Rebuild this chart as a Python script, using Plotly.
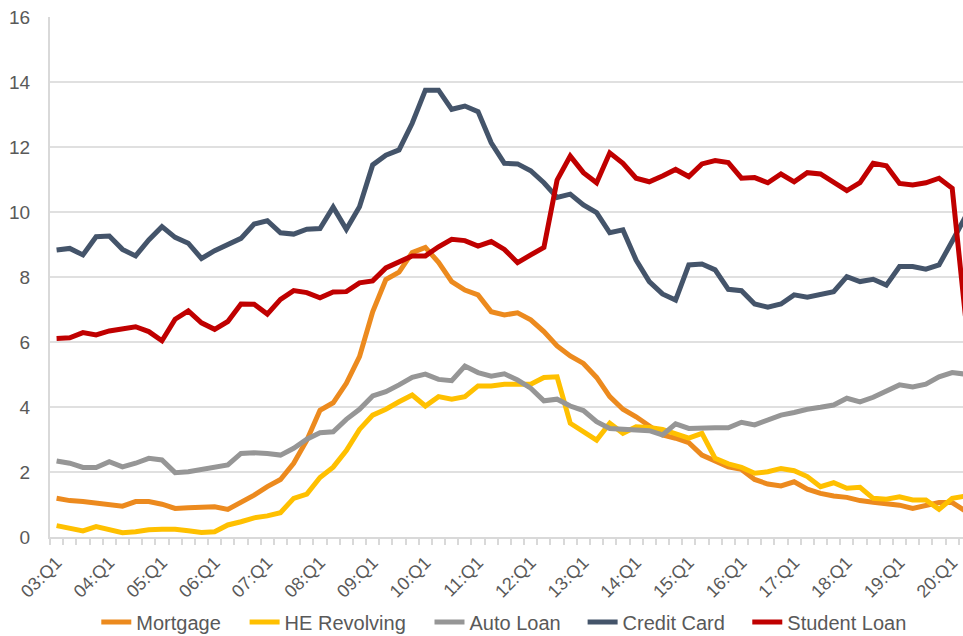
import plotly.graph_objects as go

# Quarter labels 03:Q1 .. 20:Q2
years = list(range(3, 21))
quarters = [f"{y:02d}:Q{q}" for y in years for q in (1, 2, 3, 4)][:70]

mortgage = [1.19, 1.12, 1.09, 1.04, 0.98, 0.95, 1.09, 1.09, 1.01, 0.88,
            0.90, 0.93, 0.93, 0.85, 1.06, 1.29, 1.55, 1.77, 2.27, 2.98,
            3.90, 4.13, 4.73, 5.55, 6.93, 7.92, 8.15, 8.75, 8.91, 8.45,
            7.86, 7.60, 7.45, 6.93, 6.83, 6.90, 6.68, 6.32, 5.88, 5.57,
            5.34, 4.91, 4.32, 3.93, 3.70, 3.40, 3.14, 3.04, 2.90, 2.52,
            2.32, 2.16, 2.08, 1.77, 1.63, 1.57, 1.70, 1.47, 1.34, 1.26,
            1.22, 1.12, 1.07, 1.04, 0.98, 0.88, 0.98, 1.06, 1.06, 0.80]

he_revolving = [0.35, 0.27, 0.19, 0.32, 0.22, 0.13, 0.16, 0.22, 0.24, 0.24,
                0.19, 0.14, 0.16, 0.37, 0.47, 0.59, 0.65, 0.75, 1.19, 1.32,
                1.83, 2.15, 2.66, 3.31, 3.75, 3.93, 4.16, 4.37, 4.03, 4.32,
                4.24, 4.32, 4.65, 4.65, 4.70, 4.70, 4.70, 4.91, 4.93, 3.50,
                3.24, 2.98, 3.50, 3.19, 3.39, 3.37, 3.31, 3.17, 3.04, 3.19,
                2.42, 2.25, 2.14, 1.96, 2.01, 2.11, 2.04, 1.86, 1.55, 1.67,
                1.50, 1.53, 1.19, 1.16, 1.24, 1.14, 1.14, 0.85, 1.19, 1.26]

auto_loan = [2.34, 2.27, 2.14, 2.14, 2.32, 2.16, 2.27, 2.42, 2.37, 1.98,
             2.01, 2.08, 2.16, 2.22, 2.57, 2.59, 2.57, 2.52, 2.73, 3.01,
             3.21, 3.24, 3.62, 3.93, 4.34, 4.47, 4.68, 4.91, 5.01, 4.85,
             4.81, 5.26, 5.06, 4.95, 5.02, 4.83, 4.58, 4.19, 4.24, 4.03,
             3.89, 3.55, 3.34, 3.31, 3.31, 3.27, 3.14, 3.48, 3.34, 3.36,
             3.36, 3.36, 3.53, 3.45, 3.58, 3.75, 3.83, 3.93, 3.99, 4.06,
             4.27, 4.16, 4.30, 4.47, 4.68, 4.62, 4.70, 4.93, 5.06, 5.01]

credit_card = [8.83, 8.88, 8.68, 9.24, 9.26, 8.85, 8.65, 9.14, 9.55, 9.22,
               9.04, 8.57, 8.81, 8.98, 9.19, 9.63, 9.73, 9.36, 9.32, 9.47,
               9.49, 10.15, 9.47, 10.16, 11.45, 11.75, 11.91, 12.73, 13.75, 13.75,
               13.16, 13.26, 13.09, 12.13, 11.50, 11.48, 11.27, 10.90, 10.45, 10.55,
               10.22, 9.98, 9.36, 9.45, 8.52, 7.86, 7.48, 7.29, 8.37, 8.40,
               8.22, 7.62, 7.58, 7.17, 7.07, 7.17, 7.45, 7.38, 7.48, 7.55,
               8.01, 7.86, 7.93, 7.75, 8.32, 8.32, 8.24, 8.37, 9.10, 9.85]

student_loan = [6.11, 6.13, 6.29, 6.22, 6.34, 6.39, 6.47, 6.32, 6.04, 6.70,
                6.96, 6.59, 6.39, 6.63, 7.17, 7.16, 6.86, 7.31, 7.58, 7.52,
                7.36, 7.54, 7.55, 7.82, 7.88, 8.28, 8.45, 8.65, 8.65, 8.93,
                9.16, 9.12, 8.95, 9.09, 8.85, 8.44, 8.68, 8.91, 10.98, 11.72,
                11.21, 10.90, 11.82, 11.50, 11.04, 10.93, 11.11, 11.31, 11.09, 11.48,
                11.58, 11.52, 11.04, 11.06, 10.90, 11.17, 10.93, 11.21, 11.17, 10.93,
                10.66, 10.90, 11.50, 11.42, 10.88, 10.83, 10.90, 11.04, 10.73, 6.80]

series_names = ["Mortgage", "HE Revolving", "Auto Loan", "Credit Card", "Student Loan"]
series_values = [mortgage, he_revolving, auto_loan, credit_card, student_loan]
series_colors = ["#EC8A1E", "#FFC000", "#969696", "#44546A", "#C00000"]
# left edge of each legend entry (fraction of the figure width)
legend_x = [0.100, 0.254, 0.446, 0.605, 0.776]

xi = list(range(len(quarters)))
tick_idx = [i for i, q in enumerate(quarters) if q.endswith("Q1")]
tick_txt = [quarters[i] for i in tick_idx]

fig = go.Figure()
legend_layout = {}
for k, (name, vals, color) in enumerate(zip(series_names, series_values, series_colors)):
    lg = "legend" if k == 0 else f"legend{k + 1}"
    fig.add_trace(go.Scatter(
        x=xi, y=vals, name=name, mode="lines",
        line=dict(color=color, width=5), legend=lg,
    ))
    legend_layout[lg] = dict(
        orientation="h", xref="container", x=legend_x[k], xanchor="left",
        yref="container", y=0.022, yanchor="middle",
        font=dict(size=20, color="#595959"),
        bgcolor="rgba(0,0,0,0)", borderwidth=0,
    )

font_family = "Liberation Sans, Arial, sans-serif"
fig.update_layout(
    width=963, height=636,
    margin=dict(l=50, r=0, t=17, b=99, autoexpand=False),
    paper_bgcolor="white", plot_bgcolor="white",
    font=dict(family=font_family, color="#595959"),
    showlegend=True,
    **legend_layout,
)
fig.update_yaxes(
    range=[0, 16], dtick=2, tick0=0, automargin=False,
    showgrid=True, gridcolor="#e0e0e0", gridwidth=2,
    zeroline=False,
    showline=True, linecolor="#d9d9d9", linewidth=2,
    ticks="", ticklabelstandoff=14,
    tickfont=dict(size=19, color="#595959"),
)
fig.update_xaxes(
    range=[-0.5, 68.82], automargin=False,
    tickmode="array", tickvals=tick_idx, ticktext=tick_txt,
    tickangle=-45, ticks="", ticklabelstandoff=6,
    tickfont=dict(size=18, color="#595959"),
    showgrid=False, zeroline=False,
    showline=True, linecolor="#d9d9d9", linewidth=2,
    minor=dict(tick0=-0.5, dtick=1, ticks="outside", ticklen=6,
               tickcolor="#d9d9d9", tickwidth=1.5, showgrid=False),
)

fig.write_html(
    "out.html",
    config={"displayModeBar": False},
    post_script="document.body.style.margin='0';document.body.style.overflow='hidden';",
)
